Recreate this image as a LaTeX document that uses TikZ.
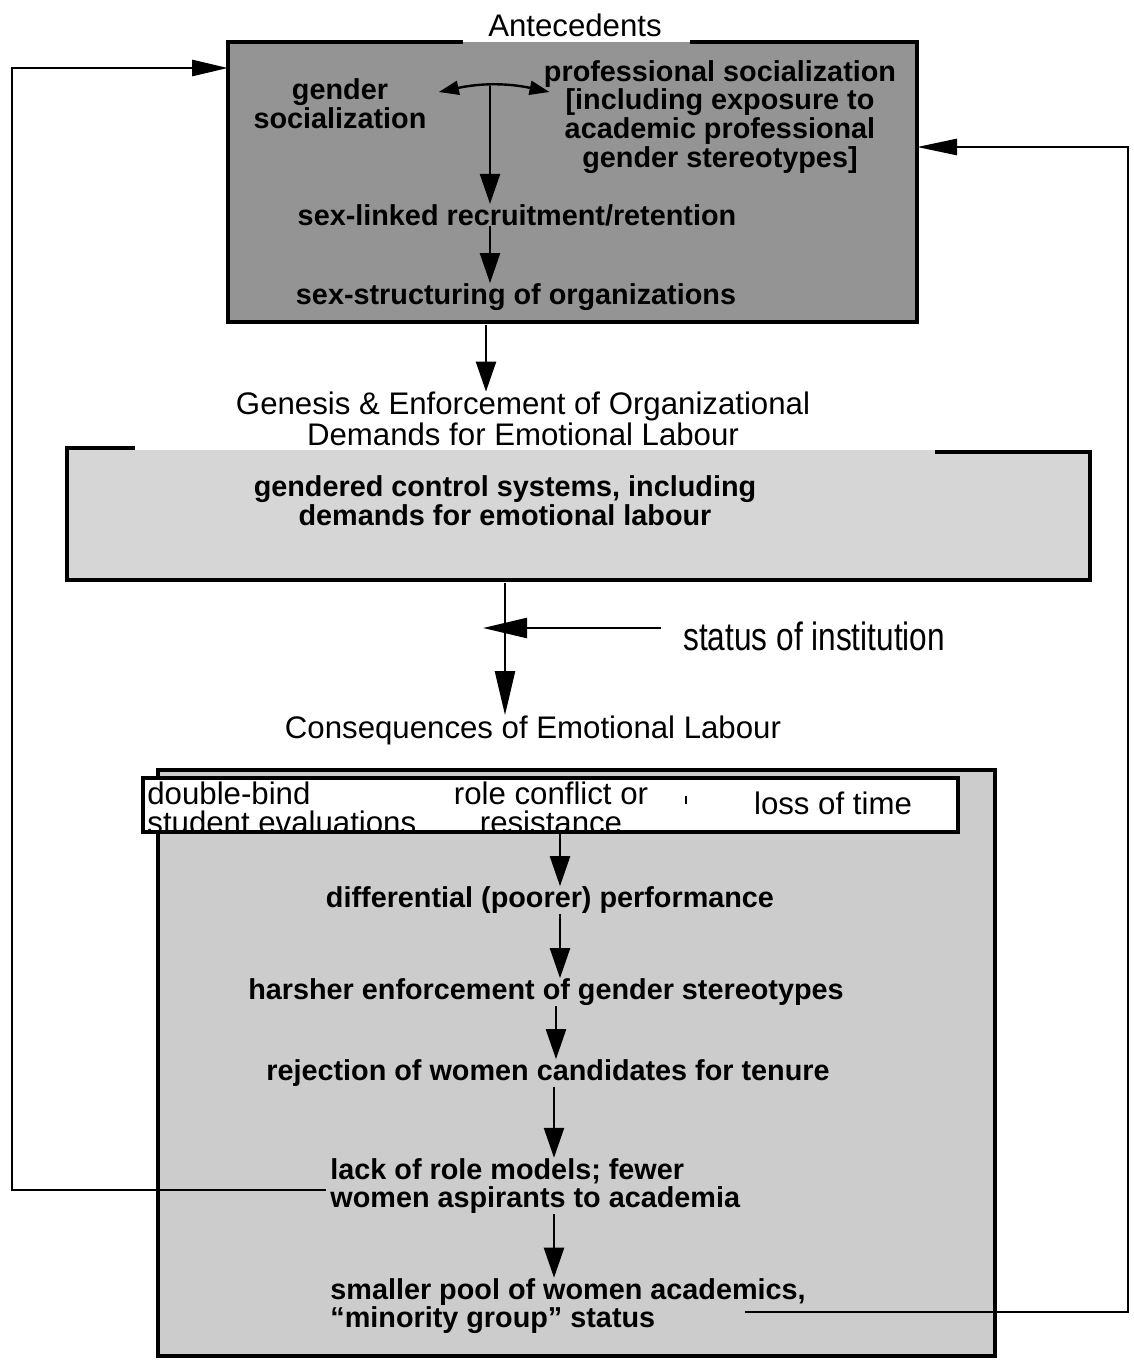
\documentclass[tikz,border=0pt]{standalone}
\usepackage{fontspec}
\setmainfont{Liberation Sans}
\usetikzlibrary{arrows.meta}
\begin{document}
\begin{tikzpicture}[x=0.5pt,y=-0.5pt,
  reg/.style={font=\fontsize{15.6}{13.8}\selectfont, inner sep=0pt, align=center},
  tight/.style={font=\fontsize{15.6}{14.4}\selectfont, inner sep=0pt},
  bld/.style={font=\fontsize{14.4}{14.4}\selectfont\bfseries, inner sep=0pt, align=center},
  arr/.style={line width=1.2pt, -{Triangle[length=15pt,width=10pt]}},
  bigarr/.style={line width=1.2pt, -{Triangle[length=22pt,width=10pt]}},
  dbl/.style={line width=1.2pt, {Triangle[length=10pt,width=7pt]}-{Triangle[length=10pt,width=7pt]}},
  fb/.style={line width=1.4pt},
  frame/.style={line width=1.8pt},
  ]
\useasboundingbox (0,0) rectangle (1134,1360);
% ---------- box 1
\fill[black!42] (228,42) rectangle (917,322);
\draw[frame] (463,42) -- (228,42) -- (228,322) -- (917,322) -- (917,42) -- (690,42);
\node[reg] (ant) at (575,25) {Antecedents};
\node[bld] (gs) at (340,104) {gender\\socialization};
\node[bld] (ps) at (720,117) {professional socialization\\{[}including exposure to\\academic professional\\gender stereotypes{]}};
\node[bld] (sl) at (517,215) {sex-linked recruitment/retention};
\node[bld] (so) at (516,297) {sex-structuring of organizations};
\coordinate (mid) at (490,86);
\draw[dbl] ([xshift=6pt]gs.east|-mid) ++(0,6) to[bend left=12] ([xshift=3pt,yshift=-3pt]ps.west|-mid);
\draw[arr] (mid) -- (mid|-sl.north);
\draw[arr] (sl.south-|mid) -- (mid|-so.north);
% ---------- box 2
\fill[black!16] (67,450) rectangle (1090,580);
\draw[frame] (135,448) -- (67,448) -- (67,580) -- (1090,580) -- (1090,452) -- (935,452);
\node[reg] (gen) at (523,419) {Genesis \& Enforcement of Organizational\\Demands for Emotional Labour};
\node[bld] (gcs) at (505,501) {gendered control systems, including\\demands for emotional labour};
\coordinate (b1s) at (486,325);
\draw[arr] (b1s) -- (b1s|-gen.north);
% ---------- status of institution
\node[reg, anchor=west] (st) at (683,636) {\scalebox{1}[1.25]{\fontsize{15.8}{18}\selectfont status of institution}};
\coordinate (b2s) at (505,583);
\node[reg] (cons) at (533,730) {Consequences of Emotional Labour};
\draw[bigarr] (b2s) -- (b2s|-cons.north);
\draw[bigarr] ([shift={(-22,-8)}]st.west) -- ([shift={(-22,-8)}]st.west-|b2s);
% ---------- box 3
\fill[black!20] (158,770) rectangle (995,1356);
\draw[frame] (158,770) rectangle (995,1356);
\draw[frame, fill=white] (143,778) rectangle (958,832);
\coordinate (ib) at (560,832);
\node[tight, align=left, anchor=west] (db) at (147,808) {double-bind\\student evaluations};
\node[tight, align=center] (rc) at (551,808) {role conflict or\\resistance};
\node[reg] (lt) at (833,803) {loss of time};
\draw[line width=1pt] (686,796) -- (686,804);
\node[bld] (dp) at (550,900) {differential (poorer) performance};
\node[bld] (he) at (546,992) {harsher enforcement of gender stereotypes};
\node[bld] (rw) at (548,1073) {rejection of women candidates for tenure};
\node[bld, align=left, anchor=west] (lr) at (330,1186) {lack of role models; fewer\\women aspirants to academia};
\node[bld, align=left, anchor=west] (sp) at (330,1306) {smaller pool of women academics,\\``minority group'' status};
\draw[arr] (ib) -- (ib|-dp.north);
\draw[arr] (dp.south-|ib) -- (ib|-he.north);
\draw[arr] ([xshift=-2pt]he.south-|ib) -- ([xshift=-2pt]ib|-rw.north);
\draw[arr] ([xshift=-3pt]rw.south-|ib) -- ([xshift=-3pt]ib|-lr.north);
\draw[arr] ([xshift=-3pt]lr.south-|ib) -- ([xshift=-3pt]ib|-sp.north);
% ---------- feedback loops
\coordinate (lin) at (228,68);
\coordinate (rin) at (917,147);
\draw[fb, -{Triangle[length=18pt,width=8pt]}] ([xshift=-2pt,yshift=-2pt]lr.west) -- (12,1190) -- (12,68) -- (lin);
\draw[fb, -{Triangle[length=20pt,width=8pt]}] (745,1312) -- (1128,1312) -- (1128,147) -- (rin);
\end{tikzpicture}
\end{document}
